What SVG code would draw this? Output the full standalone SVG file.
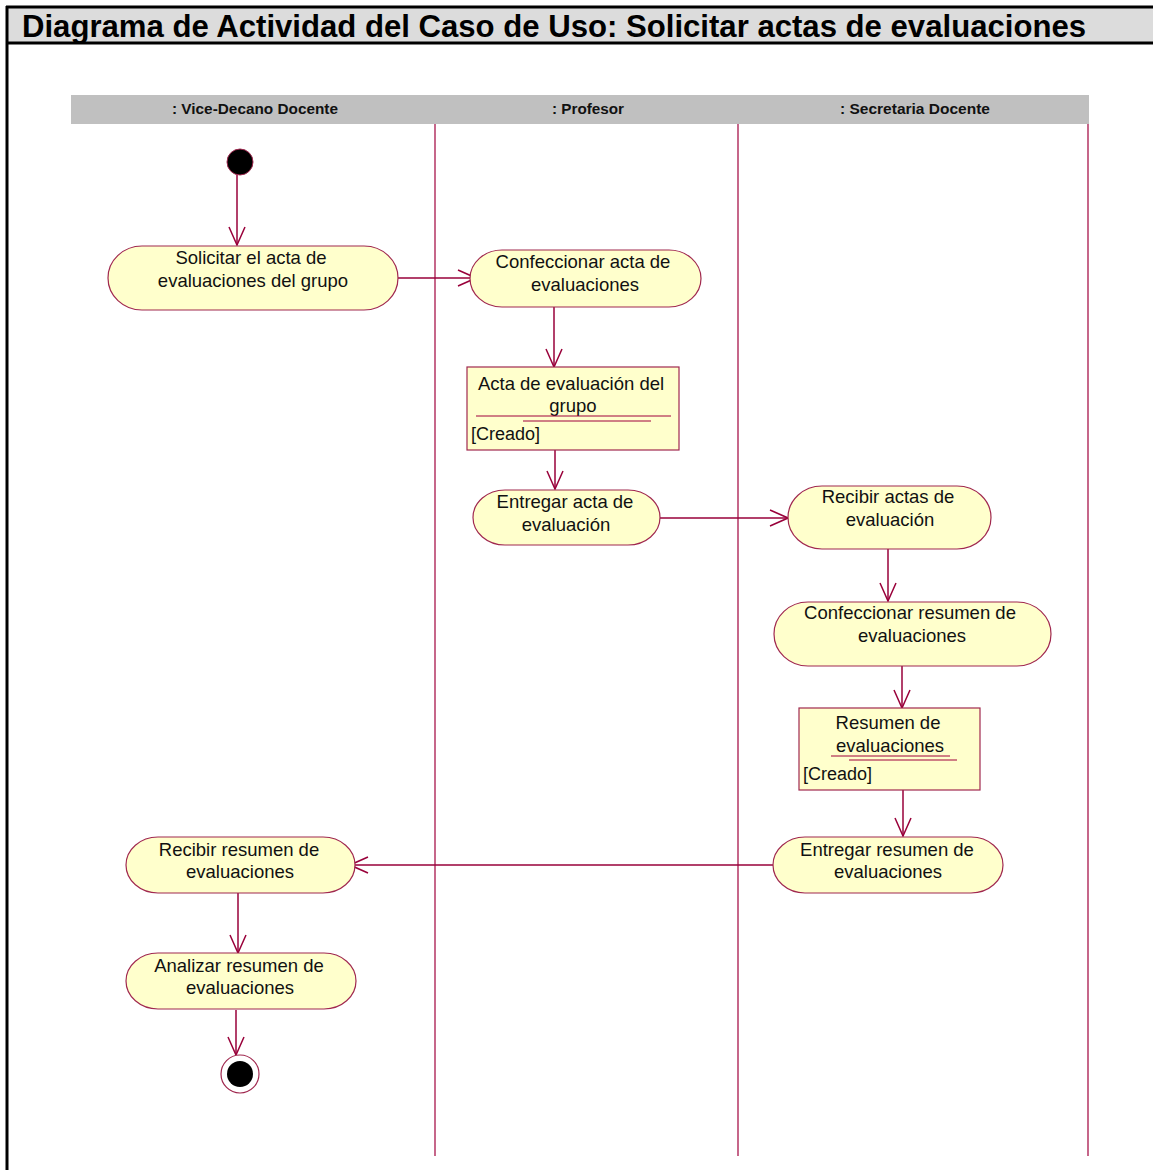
<svg xmlns="http://www.w3.org/2000/svg" width="1153" height="1170" viewBox="0 0 1153 1170">
<style>
.act{fill:#ffffcc;stroke:#a0284f;stroke-width:1.2}
.obj{fill:#ffffcc;stroke:#a0284f;stroke-width:1.2}
.t{font-family:"Liberation Sans",Arial,sans-serif;font-size:18.5px;fill:#111;text-anchor:middle}
.tl{font-family:"Liberation Sans",Arial,sans-serif;font-size:18px;fill:#111}
.hd{font-family:"Liberation Sans",Arial,sans-serif;font-size:14px;font-weight:bold;fill:#111;text-anchor:middle}
.lane{stroke:#a0003c;stroke-width:1.2}
.c{stroke:#99003a;stroke-width:1.5;fill:none;marker-end:url(#ah)}
.ul{stroke:#a0003c;stroke-width:1}
</style>
<defs>
<marker id="ah" viewBox="0 0 20 20" refX="19" refY="10" markerWidth="20" markerHeight="20" markerUnits="userSpaceOnUse" orient="auto">
<path d="M1,2 L19,10 L1,18" fill="none" stroke="#99003a" stroke-width="1.5"/>
</marker>
</defs>
<rect width="1153" height="1170" fill="#ffffff"/>
<g id="frame">
<rect x="7" y="7" width="1148" height="36" fill="#dcdcdc"/>
<line x1="6" y1="7" x2="1153" y2="7" stroke="#000" stroke-width="3"/>
<line x1="6" y1="43" x2="1153" y2="43" stroke="#000" stroke-width="3"/>
<line x1="7" y1="6" x2="7" y2="1170" stroke="#000" stroke-width="3"/>
<text x="22" y="37" font-family="Liberation Sans,Arial,sans-serif" font-size="32" font-weight="bold" fill="#000" textLength="1064" lengthAdjust="spacingAndGlyphs">Diagrama de Actividad del Caso de Uso: Solicitar actas de evaluaciones</text>
</g>
<g id="lanes">
<rect x="71" y="95" width="1018" height="29" fill="#c0c0c0"/>
<text class="hd" x="255" y="114" textLength="166" lengthAdjust="spacingAndGlyphs">: Vice-Decano Docente</text>
<text class="hd" x="588" y="114" textLength="72" lengthAdjust="spacingAndGlyphs">: Profesor</text>
<text class="hd" x="915" y="114" textLength="150" lengthAdjust="spacingAndGlyphs">: Secretaria Docente</text>
<line class="lane" x1="435" y1="124" x2="435" y2="1156"/>
<line class="lane" x1="738" y1="124" x2="738" y2="1156"/>
<line class="lane" x1="1088" y1="124" x2="1088" y2="1156"/>
</g>
<g id="connectors">
<line class="c" x1="237" y1="175" x2="237" y2="245"/>
<line class="c" x1="386" y1="278" x2="476" y2="278"/>
<line class="c" x1="554" y1="307" x2="554" y2="367"/>
<line class="c" x1="555" y1="450" x2="555" y2="489"/>
<line class="c" x1="660" y1="518" x2="788" y2="518"/>
<line class="c" x1="888" y1="549" x2="888" y2="601"/>
<line class="c" x1="902" y1="666" x2="902" y2="708"/>
<line class="c" x1="903" y1="790" x2="903" y2="836"/>
<line class="c" x1="780" y1="865" x2="350" y2="865"/>
<line class="c" x1="238" y1="893" x2="238" y2="953"/>
<line class="c" x1="236" y1="1010" x2="236" y2="1055"/>
</g>
<g id="start"><circle cx="240" cy="162" r="13" fill="#000" stroke="#a0284f" stroke-width="1"/></g>
<g id="solicitar">
<rect class="act" x="108" y="246" width="290" height="64" rx="34" ry="32"/>
<text class="t" x="251" y="264">Solicitar el acta de</text>
<text class="t" x="253" y="287">evaluaciones del grupo</text>
</g>
<g id="confeccionar-acta">
<rect class="act" x="470" y="250" width="231" height="57" rx="32" ry="28.5"/>
<text class="t" x="583" y="268">Confeccionar acta de</text>
<text class="t" x="585" y="291">evaluaciones</text>
</g>
<g id="acta-obj">
<rect class="obj" x="467" y="367" width="212" height="83"/>
<text class="t" x="571" y="390">Acta de evaluación del</text>
<text class="t" x="573" y="412">grupo</text>
<line class="ul" x1="476" y1="416" x2="671" y2="416"/>
<line class="ul" x1="523" y1="421" x2="651" y2="421"/>
<text class="tl" x="471" y="440">[Creado]</text>
</g>
<g id="entregar-acta">
<rect class="act" x="473" y="490" width="187" height="55" rx="32" ry="27.5"/>
<text class="t" x="565" y="508">Entregar acta de</text>
<text class="t" x="566" y="531">evaluación</text>
</g>
<g id="recibir-actas">
<rect class="act" x="788" y="486" width="203" height="63" rx="34" ry="31.5"/>
<text class="t" x="888" y="503">Recibir actas de</text>
<text class="t" x="890" y="526">evaluación</text>
</g>
<g id="confeccionar-resumen">
<rect class="act" x="774" y="602" width="277" height="64" rx="34" ry="32"/>
<text class="t" x="910" y="619">Confeccionar resumen de</text>
<text class="t" x="912" y="642">evaluaciones</text>
</g>
<g id="resumen-obj">
<rect class="obj" x="799" y="708" width="181" height="82"/>
<text class="t" x="888" y="729">Resumen de</text>
<text class="t" x="890" y="752">evaluaciones</text>
<line class="ul" x1="831" y1="756" x2="950" y2="756"/>
<line class="ul" x1="849" y1="760" x2="957" y2="760"/>
<text class="tl" x="803" y="780">[Creado]</text>
</g>
<g id="entregar-resumen">
<rect class="act" x="773" y="837" width="230" height="56" rx="32" ry="28"/>
<text class="t" x="887" y="856">Entregar resumen de</text>
<text class="t" x="888" y="878">evaluaciones</text>
</g>
<g id="recibir-resumen">
<rect class="act" x="126" y="837" width="229" height="56" rx="32" ry="28"/>
<text class="t" x="239" y="856">Recibir resumen de</text>
<text class="t" x="240" y="878">evaluaciones</text>
</g>
<g id="analizar">
<rect class="act" x="126" y="953" width="230" height="56" rx="32" ry="28"/>
<text class="t" x="239" y="972">Analizar resumen de</text>
<text class="t" x="240" y="994">evaluaciones</text>
</g>
<g id="end">
<circle cx="240" cy="1074" r="19" fill="#fff" stroke="#a0284f" stroke-width="1.2"/>
<circle cx="240" cy="1074" r="13" fill="#000"/>
</g>
</svg>
